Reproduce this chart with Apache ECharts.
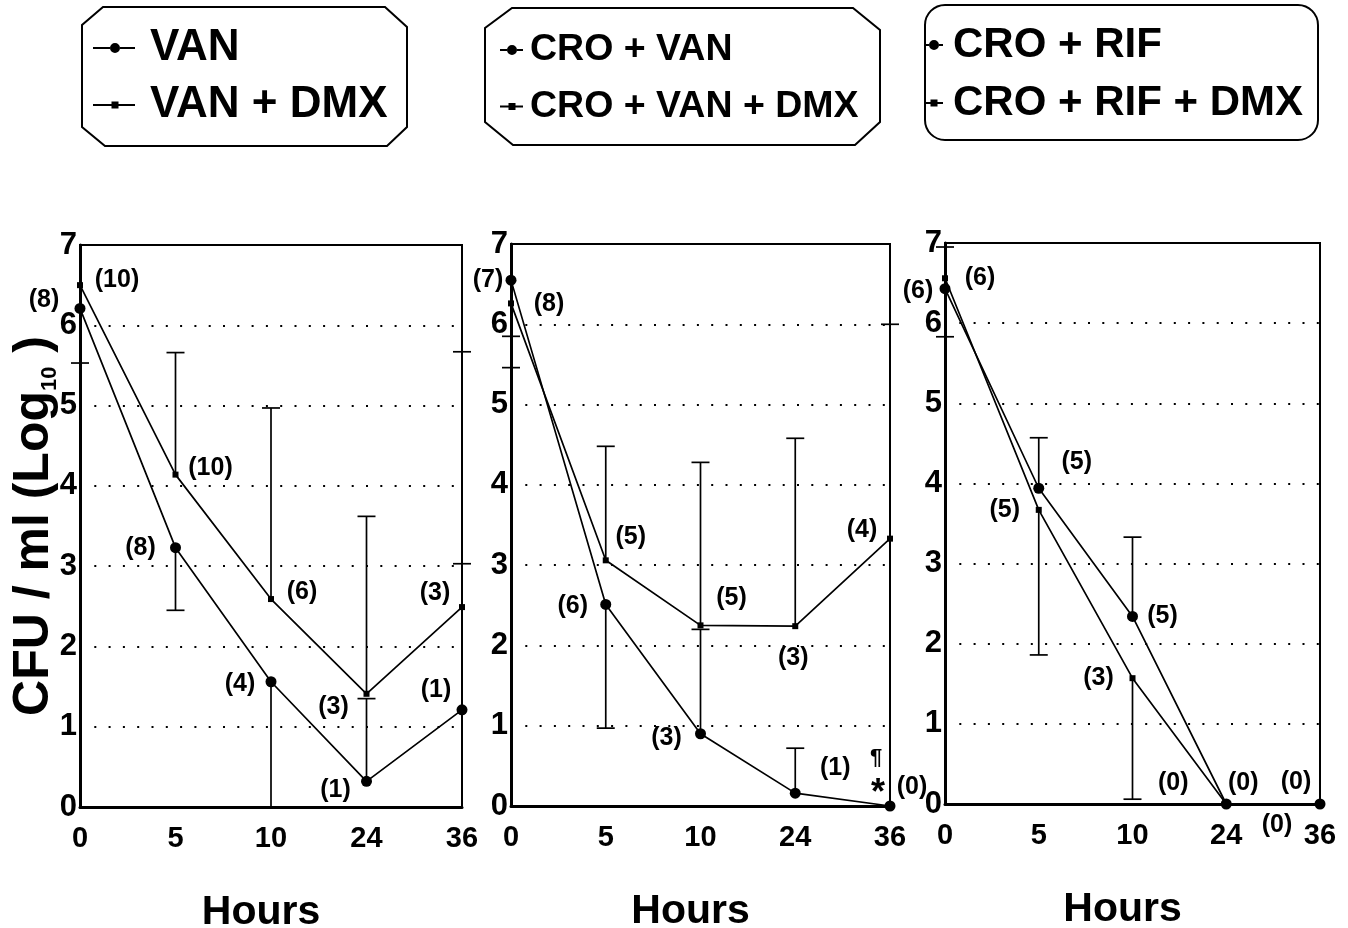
<!DOCTYPE html>
<html><head><meta charset="utf-8">
<script src="https://cdn.jsdelivr.net/npm/echarts@6/dist/echarts.min.js"></script>
<style>html,body{margin:0;padding:0;background:#fff}#c{width:1348px;height:928px}</style>
</head><body><div id="c"></div>
<script>
// ---------- data ----------
const hours = ['0', '5', '10', '24', '36'];

// Panel 1
const vanMean       = [6.21, 3.23, 1.56, 0.32, 1.21];
const vanErrEnd     = [5.53, 2.45, 0.00, 1.35, 3.03];
const vanN          = [8, 8, 4, 1, 1];
const vanDmxMean    = [6.50, 4.14, 2.59, 1.41, 2.49];
const vanDmxErrEnd  = [null, 5.66, 4.97, 3.62, 5.67];
const vanDmxN       = [10, 10, 6, 3, 3];

// Panel 2
const croVanMean      = [6.55, 2.51, 0.90, 0.16, 0.00];
const croVanErrEnd    = [5.85, 0.97, 2.20, 0.72, null];
const croVanN         = [7, 6, 3, 1, 0];
const croVanDmxMean   = [6.26, 3.06, 2.25, 2.24, 3.33];
const croVanDmxErrEnd = [5.46, 4.48, 4.28, 4.58, 6.00];
const croVanDmxN      = [8, 5, 5, 3, 4];
const p2Marks         = ['¶', '*'];

// Panel 3
const croRifMean      = [6.43, 3.94, 2.34, 0.00, 0.00];
const croRifErrEnd    = [5.83, 4.57, 3.33, null, null];
const croRifN         = [6, 5, 5, 0, 0];
const croRifDmxMean   = [6.56, 3.67, 1.57, 0.00, 0.00];
const croRifDmxErrEnd = [6.95, 1.86, 0.06, null, null];
const croRifDmxN      = [6, 5, 3, 0, 0];

// ---------- layout / style ----------
const FONT = 'Liberation Sans';
const labelOffsets = {
  van:        [[-36,-8],[-35,0],[-31,2],[-31,9],[-26,-20]],
  vanDmx:     [[37,-5],[35,-7],[31,-7],[-33,13],[-27,-14]],
  croVan:     [[-23,0],[-33,2],[-34,4],[40,-25],[22,-19]],
  croVanDmx:  [[38,1],[25,-23],[31,-27],[-2,32],[-28,-9]],
  croRif:     [[-27,2],[38,-26],[30,0],[17,-21],[-24,-22]],
  croRifDmx:  [[35,0],[-34,0],[-34,0],[-53,-21],[-43,21]]
};
const grids = [
  {left: 80,  top: 245, width: 382, height: 562},
  {left: 511, top: 244, width: 379, height: 562},
  {left: 945, top: 243, width: 375, height: 561}
];

function iconPath(total, lineLen, center, type) {
  const anchor = `M0,0H0.01V0.01H0Z M${total-0.01},11.99H${total}V12H${total-0.01}Z `;
  let p = anchor;
  if (type === 'circle') {
    const r = 5;
    p += `M0,5.1H${center-r}V6.9H0Z M${center+r},5.1H${lineLen}V6.9H${center+r}Z `;
    p += `M${center+r},6 A${r},${r} 0 1 1 ${center-r},6 A${r},${r} 0 1 1 ${center+r},6Z`;
  } else {
    const h = 3.5;
    p += `M0,5.1H${center-h}V6.9H0Z M${center+h},5.1H${lineLen}V6.9H${center+h}Z `;
    p += `M${center-h},${6-h}H${center+h}V${6+h}H${center-h}Z`;
  }
  return 'path://' + p;
}

function lineSeries(name, gi, mean, counts, offs, symbol, size) {
  return {
    type: 'line', name, xAxisIndex: gi, yAxisIndex: gi,
    symbol, symbolSize: size, showAllSymbol: true,
    lineStyle: {color: '#000', width: 1.7},
    itemStyle: {color: '#000'},
    z: 5,
    label: {
      show: true, position: 'inside', color: '#000',
      fontFamily: FONT, fontWeight: 'bold', fontSize: 25,
      formatter: p => '(' + counts[p.dataIndex] + ')'
    },
    data: mean.map((v, i) => ({value: v, label: {offset: offs[i]}}))
  };
}

function errSeries(gi, mean, ends) {
  const d = [];
  mean.forEach((v, i) => { if (ends[i] !== null) d.push([i, v, ends[i]]); });
  return {
    type: 'custom', xAxisIndex: gi, yAxisIndex: gi, z: 4, silent: true,
    renderItem: (params, api) => {
      const a = api.coord([api.value(0), api.value(1)]);
      const b = api.coord([api.value(0), api.value(2)]);
      const st = {stroke: '#000', lineWidth: 1.7};
      return {type: 'group', children: [
        {type: 'line', shape: {x1: a[0], y1: a[1], x2: b[0], y2: b[1]}, style: st},
        {type: 'line', shape: {x1: b[0] - 9, y1: b[1], x2: b[0] + 9, y2: b[1]}, style: st}
      ]};
    },
    data: d
  };
}

const xAxes = grids.map((g, i) => ({
  type: 'category', gridIndex: i, data: hours, boundaryGap: false,
  axisLine: {show: true, lineStyle: {color: '#000', width: 3}},
  axisTick: {show: false},
  axisLabel: {interval: 0, color: '#000', fontFamily: FONT, fontWeight: 'bold', fontSize: 29, margin: 17},
  splitLine: {show: false},
  name: 'Hours', nameLocation: 'middle', nameGap: 85, nameMoveOverlap: false,
  nameTextStyle: {color: '#000', fontFamily: FONT, fontWeight: 'bold', fontSize: 41, padding: [0, 20, 0, 0]}
}));

const yAxes = grids.map((g, i) => {
  const ax = {
    type: 'value', gridIndex: i, min: 0, max: 7, interval: 1,
    axisLine: {show: true, lineStyle: {color: '#000', width: 3}},
    axisTick: {show: false},
    axisLabel: {color: '#000', fontFamily: FONT, fontWeight: 'bold', fontSize: 31, margin: 3},
    splitLine: {show: true, lineStyle: {color: '#000', width: 2, type: [2, 12.3]}}
  };
  if (i === 0) {
    ax.name = 'CFU / ml (Log{sub|10} )';
    ax.nameLocation = 'middle';
    ax.nameRotate = 90;
    ax.nameGap = 19;
    ax.nameMoveOverlap = false;
    ax.nameTextStyle = {
      color: '#000', fontFamily: FONT, fontWeight: 'bold', fontSize: 50, lineHeight: 54,
      rich: {sub: {color: '#000', fontFamily: FONT, fontWeight: 'bold', fontSize: 22, lineHeight: 22, verticalAlign: 'bottom'}}
    };
  }
  return ax;
});

const s1 = lineSeries('VAN', 0, vanMean, vanN, labelOffsets.van, 'circle', 11);
const s2 = lineSeries('VAN + DMX', 0, vanDmxMean, vanDmxN, labelOffsets.vanDmx, 'rect', 6);
const s3 = lineSeries('CRO + VAN', 1, croVanMean, croVanN, labelOffsets.croVan, 'circle', 11);
const s4 = lineSeries('CRO + VAN + DMX', 1, croVanDmxMean, croVanDmxN, labelOffsets.croVanDmx, 'rect', 6);
const s5 = lineSeries('CRO + RIF', 2, croRifMean, croRifN, labelOffsets.croRif, 'circle', 11);
const s6 = lineSeries('CRO + RIF + DMX', 2, croRifDmxMean, croRifDmxN, labelOffsets.croRifDmx, 'rect', 6);

s3.markPoint = {
  symbol: 'circle', symbolSize: 0, silent: true,
  data: [
    {coord: ['36', 0], label: {show: true, formatter: p2Marks[0], position: 'inside', offset: [-14, -48], color: '#000', fontFamily: FONT, fontWeight: 'bold', fontSize: 22}},
    {coord: ['36', 0], label: {show: true, formatter: p2Marks[1], position: 'inside', offset: [-12, -12], color: '#000', fontFamily: FONT, fontWeight: 'bold', fontSize: 36}}
  ]
};

const legTxt = size => ({color: '#000', fontFamily: FONT, fontWeight: 'bold', fontSize: size});

const option = {
  backgroundColor: '#fff',
  animation: false,
  grid: grids.map(g => Object.assign({show: true, borderColor: '#000', borderWidth: 2, containLabel: false, outerBoundsMode: 'none'}, g)),
  xAxis: xAxes,
  yAxis: yAxes,
  legend: [
    {left: 88, top: 21, orient: 'vertical', itemWidth: 52, itemHeight: 12, itemGap: 13, selectedMode: false,
     textStyle: legTxt(44),
     data: [{name: 'VAN', icon: iconPath(52, 42, 22, 'circle')}, {name: 'VAN + DMX', icon: iconPath(52, 42, 22, 'rect')}]},
    {left: 495, top: 26, orient: 'vertical', itemWidth: 25, itemHeight: 12, itemGap: 18.5, selectedMode: false,
     textStyle: legTxt(37.5),
     data: [{name: 'CRO + VAN', icon: iconPath(25, 23, 12, 'circle')}, {name: 'CRO + VAN + DMX', icon: iconPath(25, 23, 12, 'rect')}]},
    {left: 920, top: 19, orient: 'vertical', itemWidth: 23, itemHeight: 12, itemGap: 16, selectedMode: false,
     textStyle: legTxt(42),
     data: [{name: 'CRO + RIF', icon: iconPath(23, 18, 9, 'circle')}, {name: 'CRO + RIF + DMX', icon: iconPath(23, 18, 9, 'rect')}]}
  ],
  graphic: [
    {type: 'polygon', silent: true,
     shape: {points: [[103,7],[385,7],[407,27],[407,127],[387,146],[105,146],[82,127],[82,25]]},
     style: {fill: 'none', stroke: '#000', lineWidth: 2}},
    {type: 'polygon', silent: true,
     shape: {points: [[512,8],[853,8],[880,30],[880,122],[855,145],[513,145],[485,122],[485,28]]},
     style: {fill: 'none', stroke: '#000', lineWidth: 2}},
    {type: 'rect', silent: true,
     shape: {x: 925, y: 5, width: 393, height: 135, r: 20},
     style: {fill: 'none', stroke: '#000', lineWidth: 2}}
  ],
  series: [
    errSeries(0, vanMean, vanErrEnd), errSeries(0, vanDmxMean, vanDmxErrEnd),
    errSeries(1, croVanMean, croVanErrEnd), errSeries(1, croVanDmxMean, croVanDmxErrEnd),
    errSeries(2, croRifMean, croRifErrEnd), errSeries(2, croRifDmxMean, croRifDmxErrEnd),
    s1, s2, s3, s4, s5, s6
  ]
};

const chart = echarts.init(document.getElementById('c'), null, {renderer: 'canvas'});
chart.setOption(option);
</script>
</body></html>
